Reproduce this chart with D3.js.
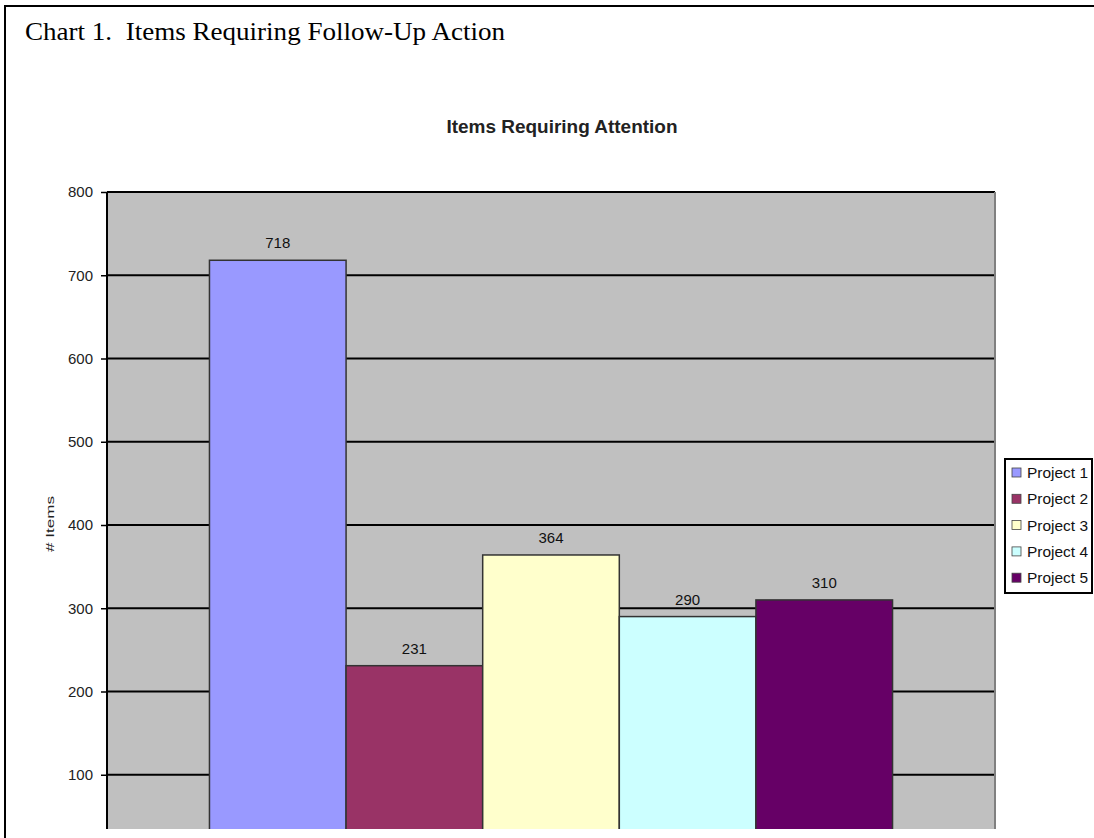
<!DOCTYPE html>
<html>
<head>
<meta charset="utf-8">
<script src="https://cdn.jsdelivr.net/npm/d3@7"></script>
<style>
  html, body { margin: 0; padding: 0; background: #fff; }
  svg { display: block; }
</style>
</head>
<body>
<svg id="chart" width="1094" height="838"></svg>
<script>
// Items still open for each project
const projects = ["Project 1", "Project 2", "Project 3", "Project 4", "Project 5"];
const itemCounts = [718, 231, 364, 290, 310];
const barColors = ["#9999FF", "#993366", "#FFFFCC", "#CCFFFF", "#660066"];
const yTicks = [100, 200, 300, 400, 500, 600, 700, 800];

const svg = d3.select("#chart");
const sans = "'Liberation Sans', Arial, sans-serif";

// Page frame and heading
svg.append("line").attr("x1", 5).attr("x2", 1094).attr("y1", 6).attr("y2", 6)
  .attr("stroke", "#000").attr("stroke-width", 2);
svg.append("line").attr("x1", 5).attr("x2", 5).attr("y1", 5).attr("y2", 838)
  .attr("stroke", "#000").attr("stroke-width", 2);
svg.append("text")
  .attr("x", 25).attr("y", 40)
  .attr("font-family", "'Liberation Serif', 'Times New Roman', serif")
  .attr("font-size", 26)
  .attr("fill", "#000")
  .style("white-space", "pre")
  .attr("textLength", 480).attr("lengthAdjust", "spacingAndGlyphs")
  .text("Chart 1.  Items Requiring Follow-Up Action");

// Plot area
const plot = { left: 107, right: 995, top: 192, bottom: 829, zero: 858 };

const y = d3.scaleLinear().domain([0, 800]).range([plot.zero, plot.top]);
const x = d3.scaleBand().domain(projects)
  .range([plot.left, plot.right]).paddingInner(0).paddingOuter(0.75);

svg.append("defs").append("clipPath").attr("id", "plotClip")
  .append("rect")
  .attr("x", plot.left - 10).attr("y", plot.top - 40)
  .attr("width", plot.right - plot.left + 20).attr("height", plot.bottom - plot.top + 40);

const g = svg.append("g").attr("clip-path", "url(#plotClip)");

g.append("rect")
  .attr("x", plot.left).attr("y", plot.top)
  .attr("width", plot.right - plot.left).attr("height", plot.zero - plot.top)
  .attr("fill", "#C0C0C0");

// Horizontal gridlines
g.selectAll("line.grid").data(yTicks).join("line")
  .attr("class", "grid")
  .attr("x1", plot.left).attr("x2", plot.right)
  .attr("y1", d => y(d)).attr("y2", d => y(d))
  .attr("stroke", "#000").attr("stroke-width", 2);

// Bars
g.selectAll("rect.bar").data(itemCounts).join("rect")
  .attr("class", "bar")
  .attr("x", (d, i) => x(projects[i]))
  .attr("y", d => y(d))
  .attr("width", x.bandwidth())
  .attr("height", d => y(0) - y(d))
  .attr("fill", (d, i) => barColors[i])
  .attr("stroke", "#333")
  .attr("stroke-width", 1.5);

// Value labels
g.selectAll("text.val").data(itemCounts).join("text")
  .attr("class", "val")
  .attr("x", (d, i) => x(projects[i]) + x.bandwidth() / 2)
  .attr("y", d => y(d) - 12)
  .attr("text-anchor", "middle")
  .attr("font-family", sans)
  .attr("font-size", 15)
  .attr("fill", "#111")
  .text(d => d);

// Plot border, right side
g.append("line")
  .attr("x1", plot.right).attr("x2", plot.right)
  .attr("y1", plot.top).attr("y2", plot.zero)
  .attr("stroke", "#808080").attr("stroke-width", 2);

// Y axis
const yAxis = d3.axisLeft(y).tickValues(yTicks).tickSize(6).tickPadding(8);
const ax = svg.append("g")
  .attr("transform", `translate(${plot.left},0)`)
  .call(yAxis);
ax.select(".domain").remove();
ax.selectAll(".tick line").attr("stroke", "#000").attr("stroke-width", 1.5);
ax.selectAll(".tick text")
  .attr("font-family", sans)
  .attr("font-size", 15)
  .attr("fill", "#222");
svg.append("line")
  .attr("x1", plot.left).attr("x2", plot.left)
  .attr("y1", plot.top).attr("y2", plot.bottom)
  .attr("stroke", "#000").attr("stroke-width", 2);

// Axis title
svg.append("text")
  .attr("transform", "translate(54,524) rotate(-90)")
  .attr("text-anchor", "middle")
  .attr("font-family", sans)
  .attr("font-size", 11)
  .attr("fill", "#222")
  .attr("textLength", 56).attr("lengthAdjust", "spacingAndGlyphs")
  .text("# Items");

// Chart title
svg.append("text")
  .attr("x", 562).attr("y", 133)
  .attr("text-anchor", "middle")
  .attr("font-family", sans)
  .attr("font-weight", "bold")
  .attr("font-size", 19)
  .attr("fill", "#222")
  .attr("textLength", 231).attr("lengthAdjust", "spacingAndGlyphs")
  .text("Items Requiring Attention");

// Legend
const legend = svg.append("g");
legend.append("rect")
  .attr("x", 1005).attr("y", 459).attr("width", 87).attr("height", 134)
  .attr("fill", "#fff").attr("stroke", "#000").attr("stroke-width", 2);
const items = legend.selectAll("g.item").data(projects).join("g")
  .attr("class", "item")
  .attr("transform", (d, i) => `translate(1012, ${473 + i * 26.3})`);
items.append("rect")
  .attr("x", 0).attr("y", -5).attr("width", 9).attr("height", 9)
  .attr("fill", (d, i) => barColors[i])
  .attr("stroke", "#444").attr("stroke-width", 0.8);
items.append("text")
  .attr("x", 15).attr("y", 5)
  .attr("font-family", sans)
  .attr("font-size", 15)
  .attr("fill", "#111")
  .attr("textLength", 61).attr("lengthAdjust", "spacingAndGlyphs")
  .text(d => d);
</script>
</body>
</html>
